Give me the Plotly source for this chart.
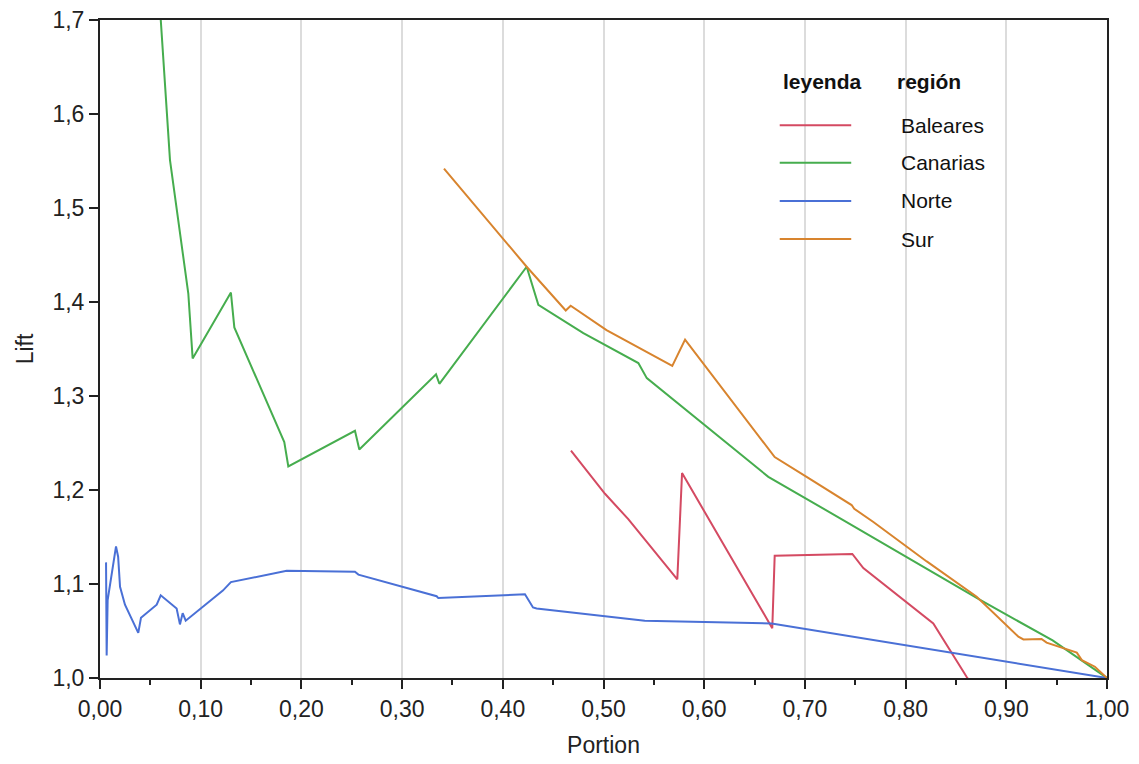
import plotly.graph_objects as go

# ---- data ----
regions = ["Baleares", "Canarias", "Norte", "Sur"]
colors = ["#d44a62", "#46ad4e", "#4a70d6", "#d8842e"]

baleares_x = [0.4677, 0.5015, 0.5246, 0.5733, 0.578, 0.6676, 0.670, 0.7471, 0.758, 0.8275, 0.8607, 0.866]
baleares_y = [1.242, 1.196, 1.169, 1.105, 1.218, 1.053, 1.130, 1.132, 1.117, 1.058, 1.001, 0.993]

canarias_x = [0.0585, 0.0603, 0.0695, 0.0877, 0.0920, 0.130, 0.1334, 0.183, 0.187, 0.2532, 0.2575,
              0.3337, 0.337, 0.4237, 0.4353, 0.480, 0.5346, 0.543, 0.6637, 0.738, 0.801, 0.874, 0.946, 1.0]
canarias_y = [1.73, 1.70, 1.551, 1.409, 1.340, 1.410, 1.373, 1.251, 1.225, 1.263, 1.243,
              1.323, 1.313, 1.4375, 1.397, 1.367, 1.335, 1.319, 1.214, 1.168, 1.129, 1.083, 1.040, 1.0]

norte_x = [0.006, 0.0066, 0.0076, 0.0159, 0.018, 0.0199, 0.0248, 0.038, 0.0407, 0.0563, 0.0603,
           0.0761, 0.0794, 0.0821, 0.0851, 0.122, 0.130, 0.1854, 0.2532, 0.2566, 0.3343, 0.336,
           0.422, 0.430, 0.4336, 0.541, 0.667, 1.0]
norte_y = [1.123, 1.024, 1.083, 1.140, 1.129, 1.097, 1.078, 1.048, 1.064, 1.078, 1.088,
           1.074, 1.057, 1.069, 1.061, 1.093, 1.102, 1.114, 1.113, 1.110, 1.087, 1.085,
           1.089, 1.075, 1.074, 1.061, 1.058, 1.0]

sur_x = [0.3416, 0.4237, 0.4625, 0.4674, 0.503, 0.5683, 0.581, 0.670, 0.7017, 0.7464, 0.749, 0.768,
         0.821, 0.8706, 0.912, 0.917, 0.935, 0.940, 0.970, 0.975, 0.988, 1.0]
sur_y = [1.542, 1.4375, 1.391, 1.396, 1.370, 1.332, 1.360, 1.235, 1.214, 1.184, 1.180, 1.166,
         1.124, 1.0865, 1.044, 1.041, 1.0415, 1.0376, 1.027, 1.019, 1.012, 1.0]

series_x = [baleares_x, canarias_x, norte_x, sur_x]
series_y = [baleares_y, canarias_y, norte_y, sur_y]

x_ticks = [0.0, 0.1, 0.2, 0.3, 0.4, 0.5, 0.6, 0.7, 0.8, 0.9, 1.0]
y_ticks = [1.0, 1.1, 1.2, 1.3, 1.4, 1.5, 1.6, 1.7]

FONT = "Liberation Sans, Arial, sans-serif"

fig = go.Figure()
for name, xs, ys, c in zip(regions, series_x, series_y, colors):
    fig.add_trace(go.Scatter(x=xs, y=ys, mode="lines", name=name,
                             line=dict(color=c, width=2), showlegend=False))

# custom legend (lines + labels) in plot coordinates
leg_y = [0.840, 0.783, 0.725, 0.667]
for name, c, ly in zip(regions, colors, leg_y):
    fig.add_shape(type="line", xref="paper", yref="paper",
                  x0=0.675, x1=0.746, y0=ly, y1=ly, line=dict(color=c, width=2))
    fig.add_annotation(xref="paper", yref="paper", x=0.793, y=ly, text=name,
                       showarrow=False, xanchor="left", yanchor="middle",
                       font=dict(family=FONT, size=21, color="#111111"))
fig.add_annotation(xref="paper", yref="paper", x=0.676, y=0.906, text="<b>leyenda</b>",
                   showarrow=False, xanchor="left", yanchor="middle",
                   font=dict(family=FONT, size=21, color="#111111"))
fig.add_annotation(xref="paper", yref="paper", x=0.789, y=0.906, text="<b>región</b>",
                   showarrow=False, xanchor="left", yanchor="middle",
                   font=dict(family=FONT, size=21, color="#111111"))

fig.update_layout(
    width=1139, height=764,
    margin=dict(l=92, r=40, t=12, b=94),
    paper_bgcolor="white", plot_bgcolor="white",
    separators=",.",
    font=dict(family=FONT, size=24, color="#222222"),
    showlegend=False,
)
fig.update_xaxes(
    range=[0, 1], tickvals=x_ticks, tickformat=".2f", automargin=False,
    ticklabeloverflow="allow",
    showline=True, linecolor="#222222", linewidth=2, mirror=True,
    ticks="outside", ticklen=9, tickwidth=2, tickcolor="#222222",
    minor=dict(dtick=0.05, ticks="outside", ticklen=5, tickwidth=2, tickcolor="#222222", showgrid=False),
    showgrid=True, gridcolor="#dcdcdc", gridwidth=1.5,
    zeroline=False,
    title=dict(text="Portion", font=dict(size=23), standoff=16),
    tickfont=dict(size=23),
)
fig.update_yaxes(
    range=[1.0, 1.7], tickvals=y_ticks, tickformat=".1f", automargin=False,
    ticklabeloverflow="allow",
    showline=True, linecolor="#222222", linewidth=2, mirror=True,
    ticks="outside", ticklen=9, tickwidth=2, tickcolor="#222222",
    showgrid=False, zeroline=False,
    title=dict(text="Lift", font=dict(size=23), standoff=12),
    tickfont=dict(size=23),
)

fig.write_html("out.html")
